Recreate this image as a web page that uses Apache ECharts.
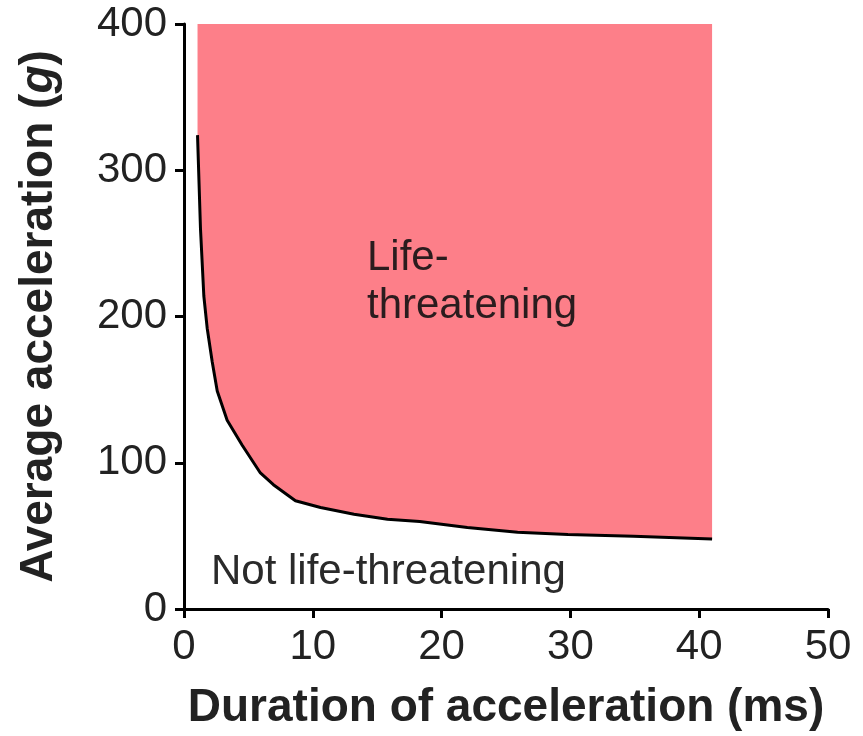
<!DOCTYPE html>
<html lang="en">
<head>
    <meta charset="UTF-8">
    <title>Acceleration tolerance</title>
    <script src="https://cdn.jsdelivr.net/npm/echarts/dist/echarts.min.js"></script>
    <style>
        html, body { margin: 0; padding: 0; background: #ffffff; }
        #main { width: 863px; height: 736px; }
    </style>
</head>
<body>
    <div id="main"></div>
    <script>
        // duration (ms) and threshold acceleration (g)
        var durations = [1.05, 1.28, 1.54, 1.8, 2.19, 2.58, 3.35, 4.52, 5.93, 6.94, 8.65, 10.6, 13.2, 15.8, 18.3, 22.0, 25.9, 29.8, 34.9, 41.0];
        var thresholds = [324, 260, 214, 192, 169, 149, 129, 112, 93, 85, 74, 69.4, 64.8, 61.4, 59.9, 55.8, 52.4, 51.0, 49.7, 47.8];
        var xTicks = [0, 10, 20, 30, 40, 50];
        var yTicks = [0, 100, 200, 300, 400];

        var curve = durations.map(function (d, i) { return [d, thresholds[i]]; });

        var chart = echarts.init(document.getElementById('main'));
        var font = '"Liberation Sans", Arial, sans-serif';

        var option = {
            animation: false,
            grid: { left: 184, right: 35, top: 24, bottom: 124 },
            xAxis: {
                type: 'value',
                min: xTicks[0],
                max: xTicks[xTicks.length - 1],
                interval: 10,
                name: 'Duration of acceleration (ms)',
                nameLocation: 'middle',
                nameGap: 76,
                nameTextStyle: { fontFamily: font, fontSize: 46, fontWeight: 'bold', color: '#222' },
                axisLine: { show: true, lineStyle: { color: '#000', width: 3 } },
                axisTick: { show: true, length: 9, lineStyle: { color: '#000', width: 3 } },
                axisLabel: { fontFamily: font, fontSize: 42, color: '#222', margin: 17 },
                splitLine: { show: false }
            },
            yAxis: {
                type: 'value',
                min: yTicks[0],
                max: yTicks[yTicks.length - 1],
                interval: 100,
                name: 'Average acceleration ({i|g})',
                nameLocation: 'middle',
                nameGap: 122,
                nameTextStyle: {
                    fontFamily: font, fontSize: 46, fontWeight: 'bold', color: '#222',
                    rich: { i: { fontFamily: font, fontSize: 46, fontWeight: 'bold', fontStyle: 'italic', color: '#222' } }
                },
                axisLine: { show: true, lineStyle: { color: '#000', width: 3 } },
                axisTick: { show: true, length: 9, lineStyle: { color: '#000', width: 3 } },
                axisLabel: { fontFamily: font, fontSize: 42, color: '#222', margin: 17 },
                splitLine: { show: false }
            },
            series: [{
                type: 'line',
                data: curve,
                symbol: 'none',
                smooth: false,
                lineStyle: { color: '#000', width: 3 },
                areaStyle: { origin: 'end', color: '#fd7f89', opacity: 1 }
            }],
            graphic: [
                {
                    type: 'text', left: 367, top: 234, z: 100,
                    style: { text: 'Life-\nthreatening', font: '42px ' + font, fill: '#2a1c1e', lineHeight: 48 }
                },
                {
                    type: 'text', left: 211, top: 551, z: 100,
                    style: { text: 'Not life-threatening', font: '42px ' + font, fill: '#2a2a2a' }
                }
            ]
        };

        chart.setOption(option);
    </script>
</body>
</html>
